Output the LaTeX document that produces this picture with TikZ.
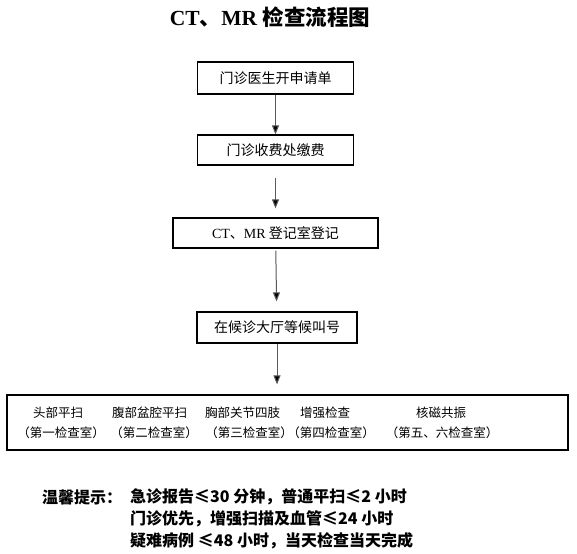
\documentclass[tikz,border=0pt]{standalone}
\usepackage{fontspec}
\setmainfont{Liberation Serif}
\newfontfamily\cjk{Noto Sans CJK SC}
\usetikzlibrary{arrows.meta}
\begin{document}
\begin{tikzpicture}[x=1pt,y=-1pt,
  flowbox/.style={draw=black, line width=1.2pt, inner sep=0pt, font=\cjk\fontsize{14}{16}\selectfont},
  flowarrow/.style={draw=black!65, line width=1pt, -{Triangle[length=9pt,width=7pt,fill=black]}},
  room/.style={font=\cjk\fontsize{12.5}{14}\selectfont, inner sep=0pt},
  tip/.style={font=\cjk\bfseries\fontsize{16}{18}\selectfont, inner sep=0pt, anchor=west},
]
\useasboundingbox (0,0) rectangle (577,553);
\fill[white] (0,0) rectangle (577,553);

\node[font=\bfseries\fontsize{21.5}{24}\selectfont, inner sep=0pt] (title) at (270,17) {CT{\cjk 、}MR {\cjk 检查流程图}};

\node[flowbox, minimum width=156pt, minimum height=32pt] (b1) at (275.5,78) {门诊医生开申请单};
\node[flowbox, minimum width=156pt, minimum height=30pt] (b2) at (275.5,150) {门诊收费处缴费};
\node[flowbox, minimum width=205pt, minimum height=30pt] (b3) at (275.5,233) {{\rmfamily CT}、{\rmfamily MR} 登记室登记};
\node[flowbox, minimum width=160pt, minimum height=31pt] (b4) at (277,327.5) {在候诊大厅等候叫号\hspace{12pt}};
\node[draw=black, line width=1.2pt, minimum width=561pt, minimum height=55pt, inner sep=0pt] (rooms) at (287.5,422.5) {};

\draw[flowarrow] (b1) -- (b2);
\draw[flowarrow, shorten <=12pt, shorten >=9pt] (b2) -- (b3);
\draw[flowarrow, shorten <=2pt, shorten >=10pt] (b3) -- (b4);
\draw[flowarrow, shorten >=10pt] (b4.south) -- (b4.south |- rooms.north);

\node[room] (r1a) at (58,413) {头部平扫};
\node[room] (r1b) at (61,433) {（第一检查室）};
\node[room] (r2a) at (149.5,413) {腹部盆腔平扫};
\node[room] (r2b) at (154,433) {（第二检查室）};
\node[room] (r3a) at (242.5,413) {胸部关节四肢};
\node[room] (r3b) at (249,433) {（第三检查室）};
\node[room] (r4a) at (325,413) {增强检查};
\node[room] (r4b) at (331,433) {（第四检查室）};
\node[room] (r5a) at (441,413) {核磁共振};
\node[room] (r5b) at (442,433) {（第五、六检查室）};

\node[tip] (tiphead) at (42,497) {温馨提示：};
\node[tip] (tip1) at (130,497) {急诊报告≤30 分钟，普通平扫≤2 小时};
\node[tip] (tip2) at (130,519) {门诊优先，增强扫描及血管≤24 小时};
\node[tip] (tip3) at (130,541) {疑难病例 ≤48 小时，当天检查当天完成};
\end{tikzpicture}
\end{document}
